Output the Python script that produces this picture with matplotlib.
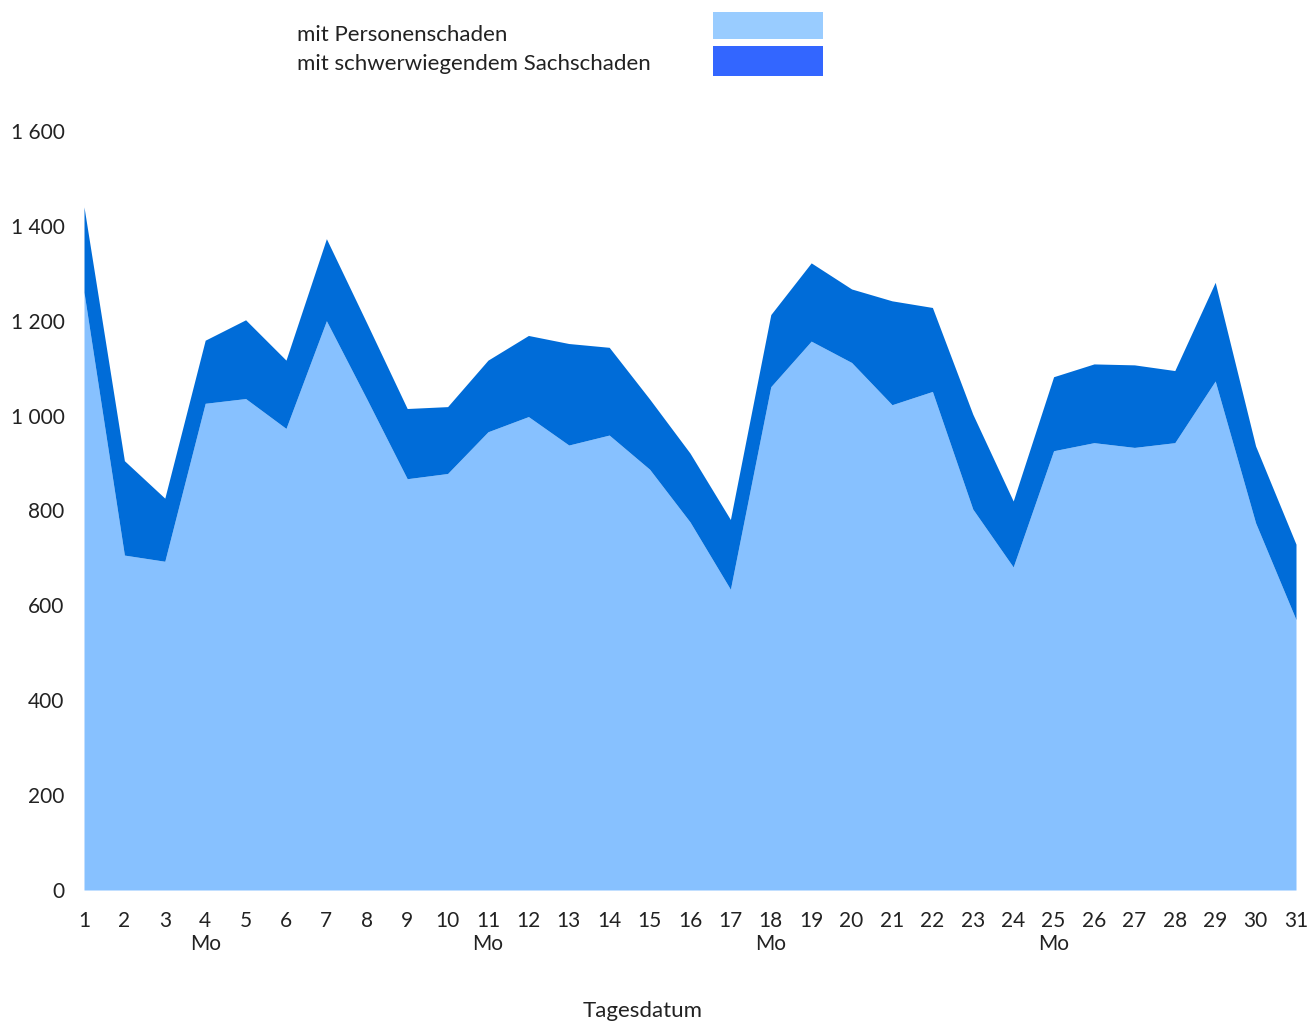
import matplotlib.pyplot as plt
from matplotlib.patches import Rectangle

plt.rcParams['font.family'] = ['Lato', 'DejaVu Sans']

# Unfälle je Tag
tage = list(range(1, 32))
personenschaden = [1260, 706, 693, 1026, 1036, 973, 1200, 1035, 867, 878,
                   966, 998, 938, 959, 887, 776, 634, 1061, 1157, 1112,
                   1023, 1051, 803, 681, 926, 943, 933, 943, 1073, 774, 570]
gesamt = [1440, 905, 826, 1159, 1202, 1117, 1373, 1195, 1015, 1019,
          1117, 1169, 1152, 1144, 1035, 921, 781, 1213, 1322, 1267,
          1242, 1228, 1003, 820, 1082, 1109, 1107, 1095, 1281, 936, 729]
montage = [4, 11, 18, 25]
y_ticks = [0, 200, 400, 600, 800, 1000, 1200, 1400, 1600]
y_labels = ["0", "200", "400", "600", "800", "1 000", "1 200", "1 400", "1 600"]
legende = ["mit Personenschaden", "mit schwerwiegendem Sachschaden"]

hell = "#87c1ff"
dunkel = "#006cd8"

fig = plt.figure(figsize=(13.07, 10.23), dpi=100)
ax = fig.add_axes([84/1307, 133/1023, 1212/1307, 759/1023])

ax.fill_between(tage, 0, personenschaden, color=hell, lw=0)
ax.fill_between(tage, personenschaden, gesamt, color=dunkel, lw=0)

ax.set_xlim(1, 31)
ax.set_ylim(0, 1600)
ax.set_yticks(y_ticks)
ax.set_yticklabels(y_labels)
ax.set_xticks(tage)
ax.set_xticklabels([f"{t}\nMo" if t in montage else str(t) for t in tage])
ax.tick_params(length=0, labelsize=15, colors="#222222")
ax.tick_params(axis="y", pad=14)
ax.tick_params(axis="x", pad=15)
for s in ax.spines.values():
    s.set_visible(False)

fig.text(643/1307, 12/1023, "Tagesdatum", ha="center", va="center", fontsize=16, color="#222222")

# legende oben
fig.text(297/1307, 1 - 35/1023, legende[0], ha="left", va="center", fontsize=16, color="#222222")
fig.text(297/1307, 1 - 64/1023, legende[1], ha="left", va="center", fontsize=16, color="#222222")
fig.add_artist(Rectangle((713/1307, 1 - 39/1023), 110/1307, 27/1023,
                         transform=fig.transFigure, color="#99ccff", lw=0))
fig.add_artist(Rectangle((713/1307, 1 - 76/1023), 110/1307, 30/1023,
                         transform=fig.transFigure, color="#3366ff", lw=0))

fig.savefig("out.png", dpi=100)
